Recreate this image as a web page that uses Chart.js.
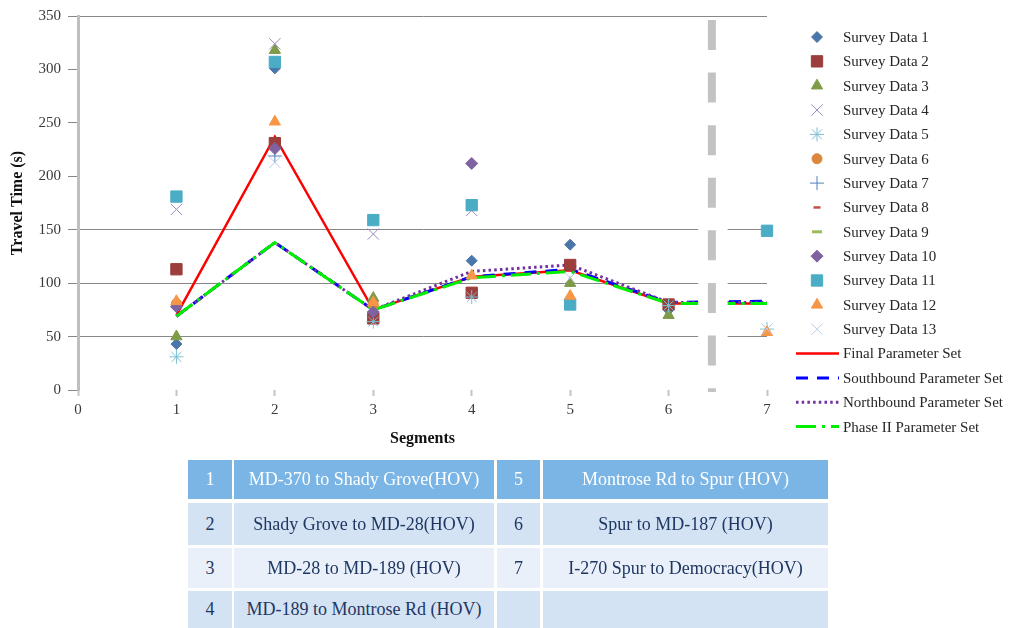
<!DOCTYPE html>
<html>
<head>
<meta charset="utf-8">
<script src="https://cdn.jsdelivr.net/npm/chart.js@4.4.1/dist/chart.umd.min.js"></script>
<style>
  html, body { margin: 0; padding: 0; background: #fff; }
  #wrap { position: relative; width: 1019px; height: 628px; overflow: hidden; }
  #c { position: absolute; left: 0; top: 0; }
  .cell {
    position: absolute; display: flex; align-items: center; justify-content: center;
    font-family: "Liberation Serif", "Times New Roman", serif; font-size: 18px;
    color: #1f3763; box-sizing: border-box; white-space: nowrap;
  }
</style>
</head>
<body>
<div id="wrap">
  <canvas id="c" width="1019" height="628"></canvas>
  <div id="tbl"></div>
</div>
<script>
// Segment numbers on the x axis
const segments = [1, 2, 3, 4, 5, 6, 7];

// Observed travel times (s) per segment; null = no observation
const survey1  = [43, 301, null, 121, 136, 75, null];
const survey2  = [113, 231, 67, 91, 117, 80, null];
const survey3  = [50, 318, 86, null, 100, 70, null];
const survey4  = [169, 324, 146, 168, null, null, null];
const survey5  = [31, null, 64, 87, null, 79, 57];
const survey6  = [81, null, 80, null, null, null, null];
const survey7  = [null, 219, null, null, null, null, null];
const survey8  = [null, null, null, null, null, null, null];
const survey9  = [null, null, null, null, null, null, null];
const survey10 = [78, 226, 73, 212, null, null, null];
const survey11 = [181, 307, 159, 173, 80, null, 149];
const survey12 = [83, 251, 82, 107, 88, null, 54];
const survey13 = [null, 213, null, null, 105, null, 57];

// Simulated travel times (s) for each calibrated parameter set
const finalSet      = [70, 237, 75, 106, 112, 81, 81];
const southboundSet = [69, 138, 75, 106, 113, 82, 83];
const northboundSet = [69, 138, 75, 111, 117, 82, 82];
const phase2Set     = [69, 138, 75, 105, 111, 81, 81];

// Axis ticks
const xTicks = [0, 1, 2, 3, 4, 5, 6, 7];
const yTicks = [0, 50, 100, 150, 200, 250, 300, 350];
const yGridShown = [50, 100, 150, 350];

// Segment descriptions for the table below the chart
const segNumbers = ['1', '2', '3', '4', '5', '6', '7'];
const segNames = [
  'MD-370 to Shady Grove(HOV)',
  'Shady Grove to MD-28(HOV)',
  'MD-28 to MD-189 (HOV)',
  'MD-189 to Montrose Rd (HOV)',
  'Montrose Rd to Spur (HOV)',
  'Spur to MD-187 (HOV)',
  'I-270 Spur to Democracy(HOV)'
];

// Divider between the main line and the spur (x in segment units, y in seconds)
const divider = { at: 6.44, clearFrom: 6.30, clearTo: 6.60, from: 346.3, to: -1.9 };

const SERIF = '"Liberation Serif", "Times New Roman", serif';

function pts(values) {
  return segments.map((s, i) => ({ x: s, y: values[i] })).filter(p => p.y !== null);
}

const surveyStyles = [
  { label: 'Survey Data 1',  data: survey1,  style: 'rectRot',  r: 5.5, fill: '#4a76a9', line: '#4a76a9', w: 1 },
  { label: 'Survey Data 2',  data: survey2,  style: 'rect',     r: 8,   fill: '#9c3e3c', line: '#9c3e3c', w: 1 },
  { label: 'Survey Data 3',  data: survey3,  style: 'triangle', r: 6.5, fill: '#7f9b48', line: '#7f9b48', w: 1 },
  { label: 'Survey Data 4',  data: survey4,  style: 'crossRot', r: 8,   fill: 'rgba(0,0,0,0)', line: '#9a8bbd', w: 1 },
  { label: 'Survey Data 5',  data: survey5,  style: 'star',     r: 7,   fill: 'rgba(0,0,0,0)', line: '#7cbfd3', w: 1 },
  { label: 'Survey Data 6',  data: survey6,  style: 'circle',   r: 5,   fill: '#dc873b', line: '#dc873b', w: 1 },
  { label: 'Survey Data 7',  data: survey7,  style: 'cross',    r: 7,   fill: 'rgba(0,0,0,0)', line: '#4f81bd', w: 1 },
  { label: 'Survey Data 8',  data: survey8,  style: 'line',     r: 3.5, fill: '#c0504d', line: '#c0504d', w: 2.5 },
  { label: 'Survey Data 9',  data: survey9,  style: 'line',     r: 5,   fill: '#9bbb59', line: '#9bbb59', w: 3 },
  { label: 'Survey Data 10', data: survey10, style: 'rectRot',  r: 6,   fill: '#7f63a1', line: '#7f63a1', w: 1 },
  { label: 'Survey Data 11', data: survey11, style: 'rect',     r: 8,   fill: '#4bacc6', line: '#4bacc6', w: 1 },
  { label: 'Survey Data 12', data: survey12, style: 'triangle', r: 6.5, fill: '#f79646', line: '#f79646', w: 1 },
  { label: 'Survey Data 13', data: survey13, style: 'crossRot', r: 8,   fill: 'rgba(0,0,0,0)', line: '#b9cde6', w: 1 }
];

const lineStyles = [
  { label: 'Final Parameter Set',       data: finalSet,      color: '#ff0000', dash: [],               w: 2.5 },
  { label: 'Southbound Parameter Set',  data: southboundSet, color: '#0000ff', dash: [12, 9],          w: 3 },
  { label: 'Northbound Parameter Set',  data: northboundSet, color: '#7030a0', dash: [2.5, 3.2],       w: 3 },
  { label: 'Phase II Parameter Set',    data: phase2Set,     color: '#00ee00', dash: [20, 6, 3, 6],    w: 3 }
];

const datasets = [];
surveyStyles.forEach((s, i) => {
  datasets.push({
    label: s.label, data: pts(s.data), showLine: false, clip: false,
    pointStyle: s.style, pointRadius: s.r, pointHoverRadius: s.r,
    pointBackgroundColor: s.fill, pointBorderColor: s.line, pointBorderWidth: s.w,
    order: surveyStyles.length - i, kind: 'marker', legendStyle: s
  });
});
lineStyles.forEach((l, i) => {
  datasets.push({
    label: l.label, data: pts(l.data), showLine: true, tension: 0,
    borderColor: l.color, borderWidth: l.w, borderDash: l.dash, borderCapStyle: 'butt',
    pointRadius: 0, pointHoverRadius: 0, fill: false,
    order: 100 - i, kind: 'line', legendStyle: l
  });
});

// Blank strip with the dashed gray divider before segment 7
const dividerPlugin = {
  id: 'segmentDivider',
  afterDatasetsDraw(chart) {
    const { ctx, chartArea, scales: { x, y } } = chart;
    ctx.save();
    const x0 = x.getPixelForValue(divider.clearFrom);
    const x1 = x.getPixelForValue(divider.clearTo);
    ctx.fillStyle = '#ffffff';
    ctx.fillRect(x0, chartArea.top + 1, x1 - x0, chartArea.bottom - chartArea.top - 1);
    const xp = x.getPixelForValue(divider.at);
    ctx.strokeStyle = '#c3c3c3';
    ctx.lineWidth = 8;
    ctx.setLineDash([30, 22.6]);
    ctx.beginPath();
    ctx.moveTo(xp, y.getPixelForValue(divider.from));
    ctx.lineTo(xp, y.getPixelForValue(divider.to));
    ctx.stroke();
    ctx.restore();
  }
};

// Legend listed down the right side
const legendBox = { markerX: 817, lineFrom: 796, lineTo: 839, textX: 843, firstY: 37, step: 24.35 };
const sideLegendPlugin = {
  id: 'sideLegend',
  afterDraw(chart) {
    const ctx = chart.ctx;
    ctx.save();
    chart.data.datasets.forEach((ds, i) => {
      const yy = legendBox.firstY + i * legendBox.step;
      const st = ds.legendStyle;
      if (ds.kind === 'marker') {
        ctx.fillStyle = st.fill;
        ctx.strokeStyle = st.line;
        ctx.lineWidth = st.w;
        ctx.setLineDash([]);
        Chart.helpers.drawPoint(ctx, { pointStyle: st.style, radius: st.r, rotation: 0, borderWidth: st.w }, legendBox.markerX, yy);
      } else {
        ctx.strokeStyle = st.color;
        ctx.lineWidth = st.w;
        ctx.setLineDash(st.dash);
        ctx.beginPath();
        ctx.moveTo(legendBox.lineFrom, yy);
        ctx.lineTo(legendBox.lineTo, yy);
        ctx.stroke();
      }
      ctx.setLineDash([]);
      ctx.fillStyle = '#262626';
      ctx.font = '15px ' + SERIF;
      ctx.textBaseline = 'middle';
      ctx.textAlign = 'left';
      ctx.fillText(ds.label, legendBox.textX, yy + 1);
    });
    ctx.restore();
  }
};

new Chart(document.getElementById('c'), {
  type: 'scatter',
  data: { datasets },
  plugins: [dividerPlugin, sideLegendPlugin],
  options: {
    responsive: false,
    animation: false,
    layout: { padding: { left: 0, right: 252, top: 14, bottom: 180 } },
    plugins: { legend: { display: false }, tooltip: { enabled: false } },
    scales: {
      x: {
        type: 'linear', min: xTicks[0], max: xTicks[xTicks.length - 1],
        afterBuildTicks(s) { s.ticks = xTicks.map(v => ({ value: v })); },
        ticks: { color: '#3a3a3a', font: { family: SERIF, size: 15 }, padding: 5 },
        grid: { color: 'rgba(0,0,0,0)', tickColor: '#c4c4c4', tickLength: 6, lineWidth: 1, tickWidth: 2 },
        border: { display: false },
        title: { display: true, text: 'Segments', color: '#111', font: { family: SERIF, size: 16, weight: 'bold' }, padding: { top: 0, bottom: 0 } },
        afterFit(s) { s.height = 58; }
      },
      y: {
        min: yTicks[0], max: yTicks[yTicks.length - 1],
        afterBuildTicks(s) { s.ticks = yTicks.map(v => ({ value: v })); },
        ticks: { color: '#3a3a3a', font: { family: SERIF, size: 15 }, padding: 7 },
        grid: {
          color: c => (c.tick && yGridShown.includes(c.tick.value)) ? '#878787' : 'rgba(0,0,0,0)',
          tickColor: '#878787', tickLength: 10, lineWidth: 1
        },
        border: { color: '#bfbfbf', width: 3 },
        title: { display: true, text: 'Travel Time (s)', color: '#111', font: { family: SERIF, size: 16, weight: 'bold' }, padding: { top: 8, bottom: 0 } },
        afterFit(s) { s.width = 78; }
      }
    }
  }
});

// Segment key table
const tableCols = [[188, 232], [234, 494], [497, 540], [543, 828]];
const tableRows = [[460, 499], [503, 545], [548, 588], [591, 628]];
const rowFills = ['#7ab5e5', '#d4e3f4', '#e9f0f9', '#d4e3f4'];
const rowText = ['#ffffff', '#1f3763', '#1f3763', '#1f3763'];
const tbl = document.getElementById('tbl');
tableRows.forEach((r, ri) => {
  const left = ri;          // segments 1-4 on the left half
  const right = ri + 4;     // segments 5-7 on the right half
  const cells = [
    segNumbers[left] || '', segNames[left] || '',
    segNumbers[right] || '', segNames[right] || ''
  ];
  cells.forEach((txt, ci) => {
    const d = document.createElement('div');
    d.className = 'cell';
    const [x0, x1] = tableCols[ci];
    d.style.left = x0 + 'px';
    d.style.width = (x1 - x0) + 'px';
    d.style.top = r[0] + 'px';
    d.style.height = (r[1] - r[0]) + 'px';
    d.style.background = rowFills[ri];
    d.style.color = rowText[ri];
    d.textContent = txt;
    tbl.appendChild(d);
  });
});
</script>
</body>
</html>
